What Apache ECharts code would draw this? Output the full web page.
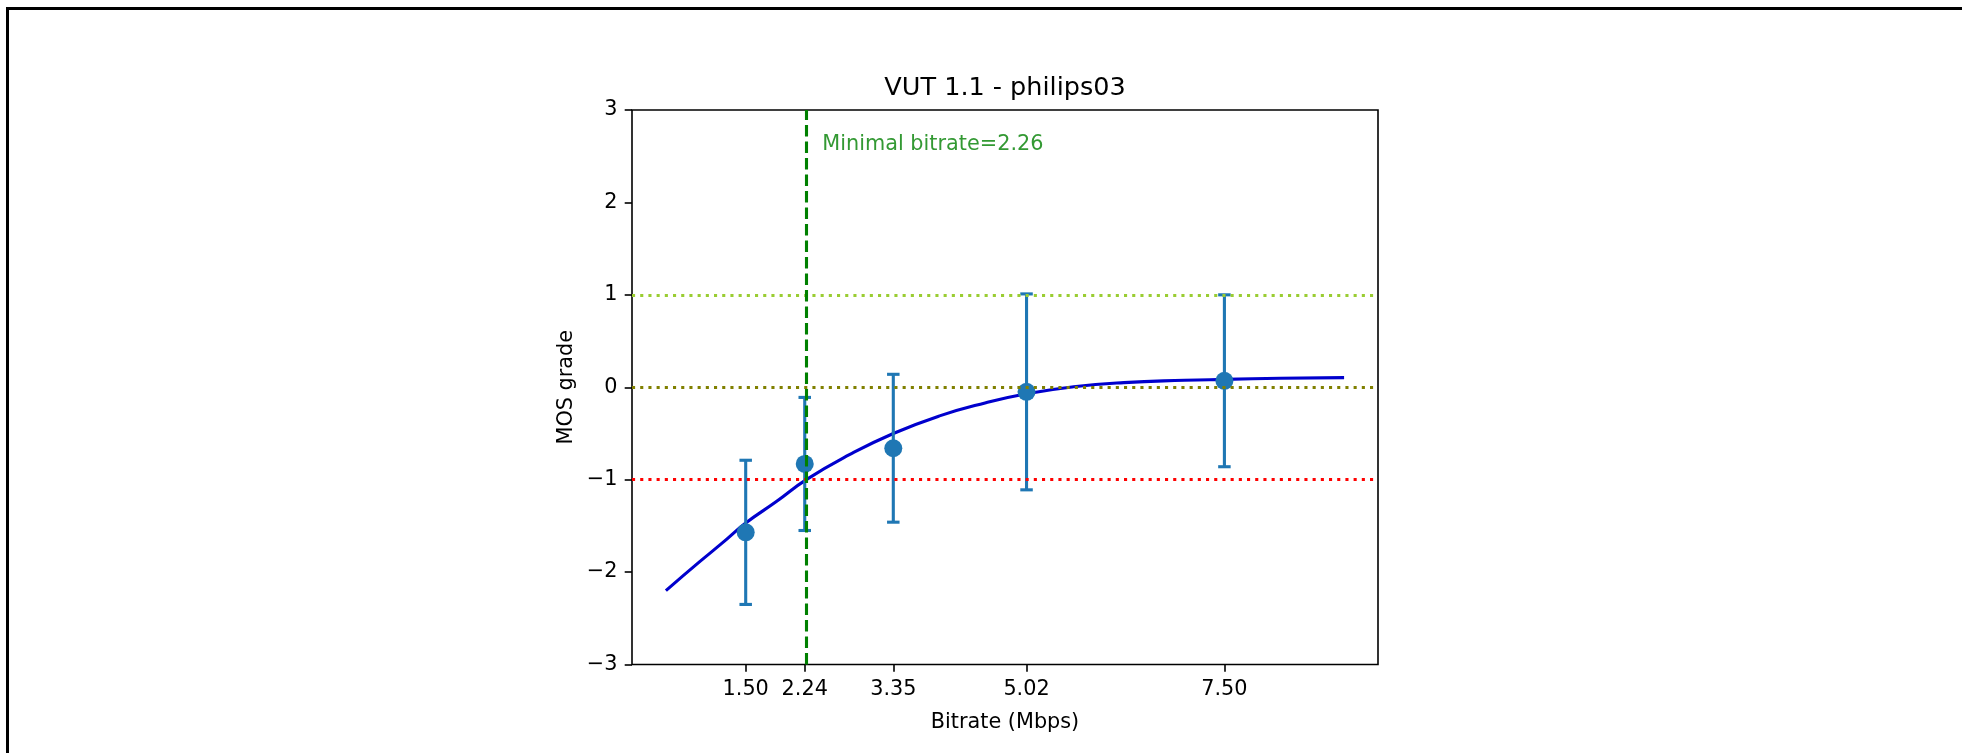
<!DOCTYPE html>
<html>
<head>
<meta charset="utf-8">
<script src="https://cdn.jsdelivr.net/npm/echarts@6/dist/echarts.min.js"></script>
<style>
  html, body { margin: 0; padding: 0; background: #fff; }
  #chart { width: 1962px; height: 753px; }
</style>
</head>
<body>
<div id="chart"></div>
<script>
// Measured MOS per tested bitrate (mean and half-width of the error bar)
const bitrates = [1.50, 2.24, 3.35, 5.02, 7.50];
const mosMean  = [-1.57, -0.83, -0.66, -0.05, 0.07];
const mosErr   = [0.78, 0.72, 0.80, 1.06, 0.93];

// Fitted quality curve, sampled along bitrate
const fitX = [0.50, 0.92, 1.20, 1.50, 1.88, 2.26, 2.80, 3.35, 3.93, 4.50, 5.02, 5.61, 6.24, 7.00, 7.50, 8.20, 9.00];
const fitY = [-2.20, -1.89, -1.69, -1.47, -1.24, -1.00, -0.73, -0.50, -0.31, -0.17, -0.07, 0.005, 0.05, 0.075, 0.085, 0.097, 0.104];

// Reference grade levels
const levelValues = [1, 0, -1];
const levelColors = ['#9acd32', '#808000', '#ff0000'];

const minimalBitrate = 2.26;
const yTicks = [-3, -2, -1, 0, 1, 2, 3];

const FONT = 'DejaVu Sans';
const minus = s => String(s).replace('-', '\u2212');

const chart = echarts.init(document.getElementById('chart'), null, { renderer: 'canvas' });

const errData = bitrates.map((b, i) => [b, mosMean[i], mosErr[i]]);
const fitData = fitX.map((x, i) => [x, fitY[i]]);

const dotted = [3.1, 5.1];
const dashed = [11.5, 5];

chart.setOption({
  backgroundColor: '#ffffff',
  animation: false,
  grid: {
    left: 632, top: 110, width: 746, height: 554.5,
    show: true, borderColor: '#000', borderWidth: 1.6, backgroundColor: 'transparent',
    containLabel: false, outerBoundsMode: 'none'
  },
  xAxis: {
    type: 'value', min: 0.075, max: 9.425,
    name: 'Bitrate (Mbps)', nameLocation: 'middle', nameGap: 47.5,
    nameTextStyle: { fontFamily: FONT, fontSize: 20.8, color: '#000' },
    splitLine: { show: false },
    axisLine: { show: false, onZero: false },
    axisTick: { show: true, inside: false, length: 7.3, customValues: bitrates,
                lineStyle: { color: '#000', width: 1.6 } },
    axisLabel: { show: true, customValues: bitrates, margin: 14.6,
                 fontFamily: FONT, fontSize: 20.8, color: '#000',
                 formatter: v => v.toFixed(2) }
  },
  yAxis: {
    type: 'value', min: -3, max: 3, interval: 1,
    name: 'MOS grade', nameLocation: 'middle', nameGap: 55, nameRotate: 90,
    nameTextStyle: { fontFamily: FONT, fontSize: 20.8, color: '#000' },
    splitLine: { show: false },
    axisLine: { show: false, onZero: false },
    axisTick: { show: true, inside: false, length: 7.3, customValues: yTicks,
                lineStyle: { color: '#000', width: 1.6 } },
    axisLabel: { show: true, customValues: yTicks, margin: 14.6,
                 fontFamily: FONT, fontSize: 20.8, color: '#000',
                 formatter: v => minus(v) }
  },
  graphic: [
    { type: 'text', x: 1005, y: 88, z: 100,
      style: { text: 'VUT 1.1 - philips03', fontFamily: FONT, fontSize: 25.5,
               fill: '#000', align: 'center', verticalAlign: 'middle' } },
    { type: 'line', shape: { x1: 7.5, y1: 7, x2: 7.5, y2: 753 },
      style: { stroke: '#000', lineWidth: 3 } },
    { type: 'line', shape: { x1: 6, y1: 8.5, x2: 1962, y2: 8.5 },
      style: { stroke: '#000', lineWidth: 3 } }
  ],
  series: [
    {
      // threshold levels and the minimal-bitrate marker
      type: 'line', data: [], symbol: 'none', silent: true, z: 1,
      markLine: {
        symbol: 'none', silent: true, animation: false,
        label: { show: false },
        data: levelValues.map((v, i) => ({
          yAxis: v,
          lineStyle: { color: levelColors[i], width: 3.1, type: dotted, cap: 'butt' }
        })).concat([{
          xAxis: minimalBitrate,
          lineStyle: { color: '#008000', width: 3.1, type: dashed, cap: 'butt' }
        }])
      }
    },
    {
      type: 'line', data: fitData, showSymbol: false, symbol: 'none',
      smooth: true, z: 2,
      lineStyle: { color: '#0000cd', width: 3.1 }
    },
    {
      type: 'custom', data: errData, z: 3,
      encode: { x: 0, y: 1 },
      renderItem: (params, api) => {
        const x = api.value(0), y = api.value(1), e = api.value(2);
        const top = api.coord([x, y + e]);
        const bot = api.coord([x, y - e]);
        const hw = 6.25;
        const st = { stroke: '#1f77b4', lineWidth: 3.1 };
        return {
          type: 'group',
          children: [
            { type: 'line', shape: { x1: top[0], y1: top[1], x2: bot[0], y2: bot[1] }, style: st },
            { type: 'line', shape: { x1: top[0] - hw, y1: top[1], x2: top[0] + hw, y2: top[1] }, style: st },
            { type: 'line', shape: { x1: bot[0] - hw, y1: bot[1], x2: bot[0] + hw, y2: bot[1] }, style: st }
          ]
        };
      }
    },
    {
      type: 'scatter', data: bitrates.map((b, i) => [b, mosMean[i]]),
      symbol: 'circle', symbolSize: 18, z: 4,
      itemStyle: { color: '#1f77b4', opacity: 1 }
    },
    {
      type: 'scatter', data: [[2.46, 2.63]], symbolSize: 0, z: 5, silent: true,
      label: {
        show: true, position: 'right', distance: 0,
        formatter: 'Minimal bitrate=' + minimalBitrate.toFixed(2),
        fontFamily: FONT, fontSize: 20.8, color: '#008000',
        align: 'left', verticalAlign: 'middle'
      }
    }
  ]
});
</script>
</body>
</html>
